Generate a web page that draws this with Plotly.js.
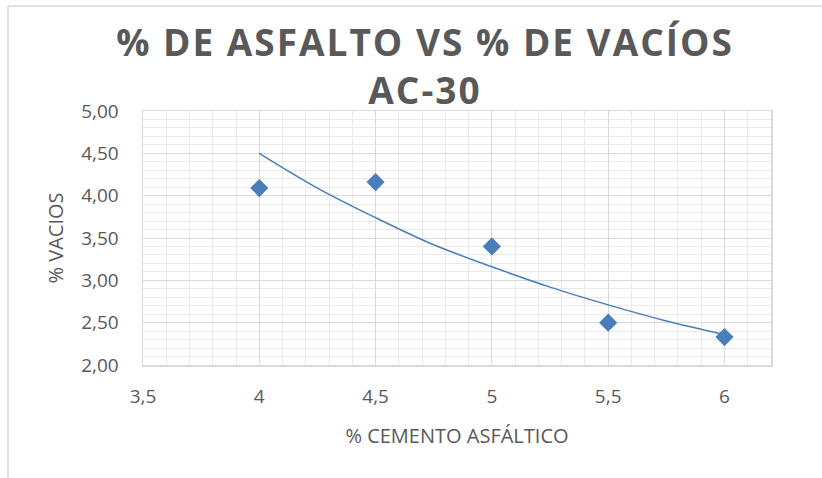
<!DOCTYPE html>
<html>
<head>
<meta charset="utf-8">
<script src="https://cdn.plot.ly/plotly-3.0.1.min.js"></script>
<style>
  html, body { margin: 0; padding: 0; background: #ffffff; }
  #chart { width: 822px; height: 478px; }
</style>
</head>
<body>
<div id="chart"></div>
<script>
// Data
const cementoAsfaltico = [4, 4.5, 5, 5.5, 6];
const vacios = [4.09, 4.16, 3.40, 2.50, 2.33];

// Trendline (power)
const trendX = [4, 4.25, 4.5, 4.75, 5, 5.25, 5.5, 5.75, 6];
const trendY = [4.50, 4.09, 3.74, 3.42, 3.16, 2.92, 2.71, 2.52, 2.36];

const chartTitle = '% DE ASFALTO VS % DE VACÍOS<br>AC-30';
const xTitle = '% CEMENTO ASFÁLTICO';
const yTitle = '% VACIOS';

const blue = '#4a7ebb';
const textColor = '#595959';
const font = 'Open Sans, Liberation Sans, sans-serif';
const majorGrid = '#d9d9d9';
const minorGrid = '#e9e9e9';

const traces = [
  // invisible trace on base axes (minor grid only)
  {
    x: cementoAsfaltico, y: vacios, type: 'scatter', mode: 'markers',
    marker: { opacity: 0 }, hoverinfo: 'skip', showlegend: false
  },
  {
    x: trendX, y: trendY, xaxis: 'x2', yaxis: 'y2', type: 'scatter', mode: 'lines',
    line: { color: blue, width: 1.5, shape: 'spline', smoothing: 1 },
    hoverinfo: 'skip', showlegend: false
  },
  {
    x: cementoAsfaltico, y: vacios, xaxis: 'x2', yaxis: 'y2', type: 'scatter', mode: 'markers',
    marker: { symbol: 'diamond', size: 14, color: blue, line: { width: 0 } },
    showlegend: false
  }
];

const layout = {
  width: 822, height: 478,
  paper_bgcolor: '#ffffff', plot_bgcolor: '#ffffff',
  separators: ',.',
  margin: { l: 143, r: 51, t: 111, b: 113, pad: 0 },
  font: { family: font, color: textColor, size: 19 },
  title: {
    text: chartTitle,
    font: { family: font, size: 37, color: textColor, weight: 'bold' },
    x: 425 / 822, xanchor: 'center', xref: 'container',
    y: 1 - 56 / 478, yanchor: 'top'
  },
  // minor grid (base axes)
  xaxis: {
    range: [3.5, 6.2], tick0: 3.5, dtick: 0.1,
    showgrid: true, gridcolor: minorGrid, gridwidth: 1,
    showticklabels: false, ticks: '', zeroline: false, showline: false
  },
  yaxis: {
    range: [2, 5], tick0: 2, dtick: 0.1,
    showgrid: true, gridcolor: minorGrid, gridwidth: 1,
    showticklabels: false, ticks: '', zeroline: false, showline: false
  },
  // major grid, labels and titles (overlaid axes)
  xaxis2: {
    overlaying: 'x', side: 'bottom',
    range: [3.5, 6.2], tick0: 3.5, dtick: 0.5,
    showgrid: true, gridcolor: majorGrid, gridwidth: 1,
    showline: true, linecolor: majorGrid, linewidth: 1.5, mirror: true,
    zeroline: false,
    ticks: 'outside', ticklen: 14, tickcolor: 'rgba(0,0,0,0)',
    tickfont: { size: 19, color: textColor, family: font },
    title: { text: xTitle, font: { size: 20, color: textColor, family: font }, standoff: 20 }
  },
  yaxis2: {
    overlaying: 'y', side: 'left',
    range: [2, 5], tick0: 2, dtick: 0.5, tickformat: '.2f',
    showgrid: true, gridcolor: majorGrid, gridwidth: 1,
    showline: true, linecolor: majorGrid, linewidth: 1.5, mirror: true,
    zeroline: false,
    ticks: 'outside', ticklen: 19, tickcolor: 'rgba(0,0,0,0)',
    tickfont: { size: 19, color: textColor, family: font },
    title: { text: yTitle, font: { size: 20, color: textColor, family: font }, standoff: 12 }
  },
  shapes: [
    { type: 'line', xref: 'paper', yref: 'paper',
      x0: (8 - 143) / 628, x1: (8 - 143) / 628, y0: (365 - 6) / 254, y1: (365 - 490) / 254,
      line: { color: '#d9d9d9', width: 1.5 } },
    { type: 'line', xref: 'paper', yref: 'paper',
      x0: (8 - 143) / 628, x1: (840 - 143) / 628, y0: (365 - 6) / 254, y1: (365 - 6) / 254,
      line: { color: '#d9d9d9', width: 1.5 } }
  ]
};

Plotly.newPlot('chart', traces, layout, { displayModeBar: false, staticPlot: true }).then(function () {
  document.querySelectorAll('.gtitle').forEach(function (el) {
    el.style.letterSpacing = '2px';
  });
});
</script>
</body>
</html>
